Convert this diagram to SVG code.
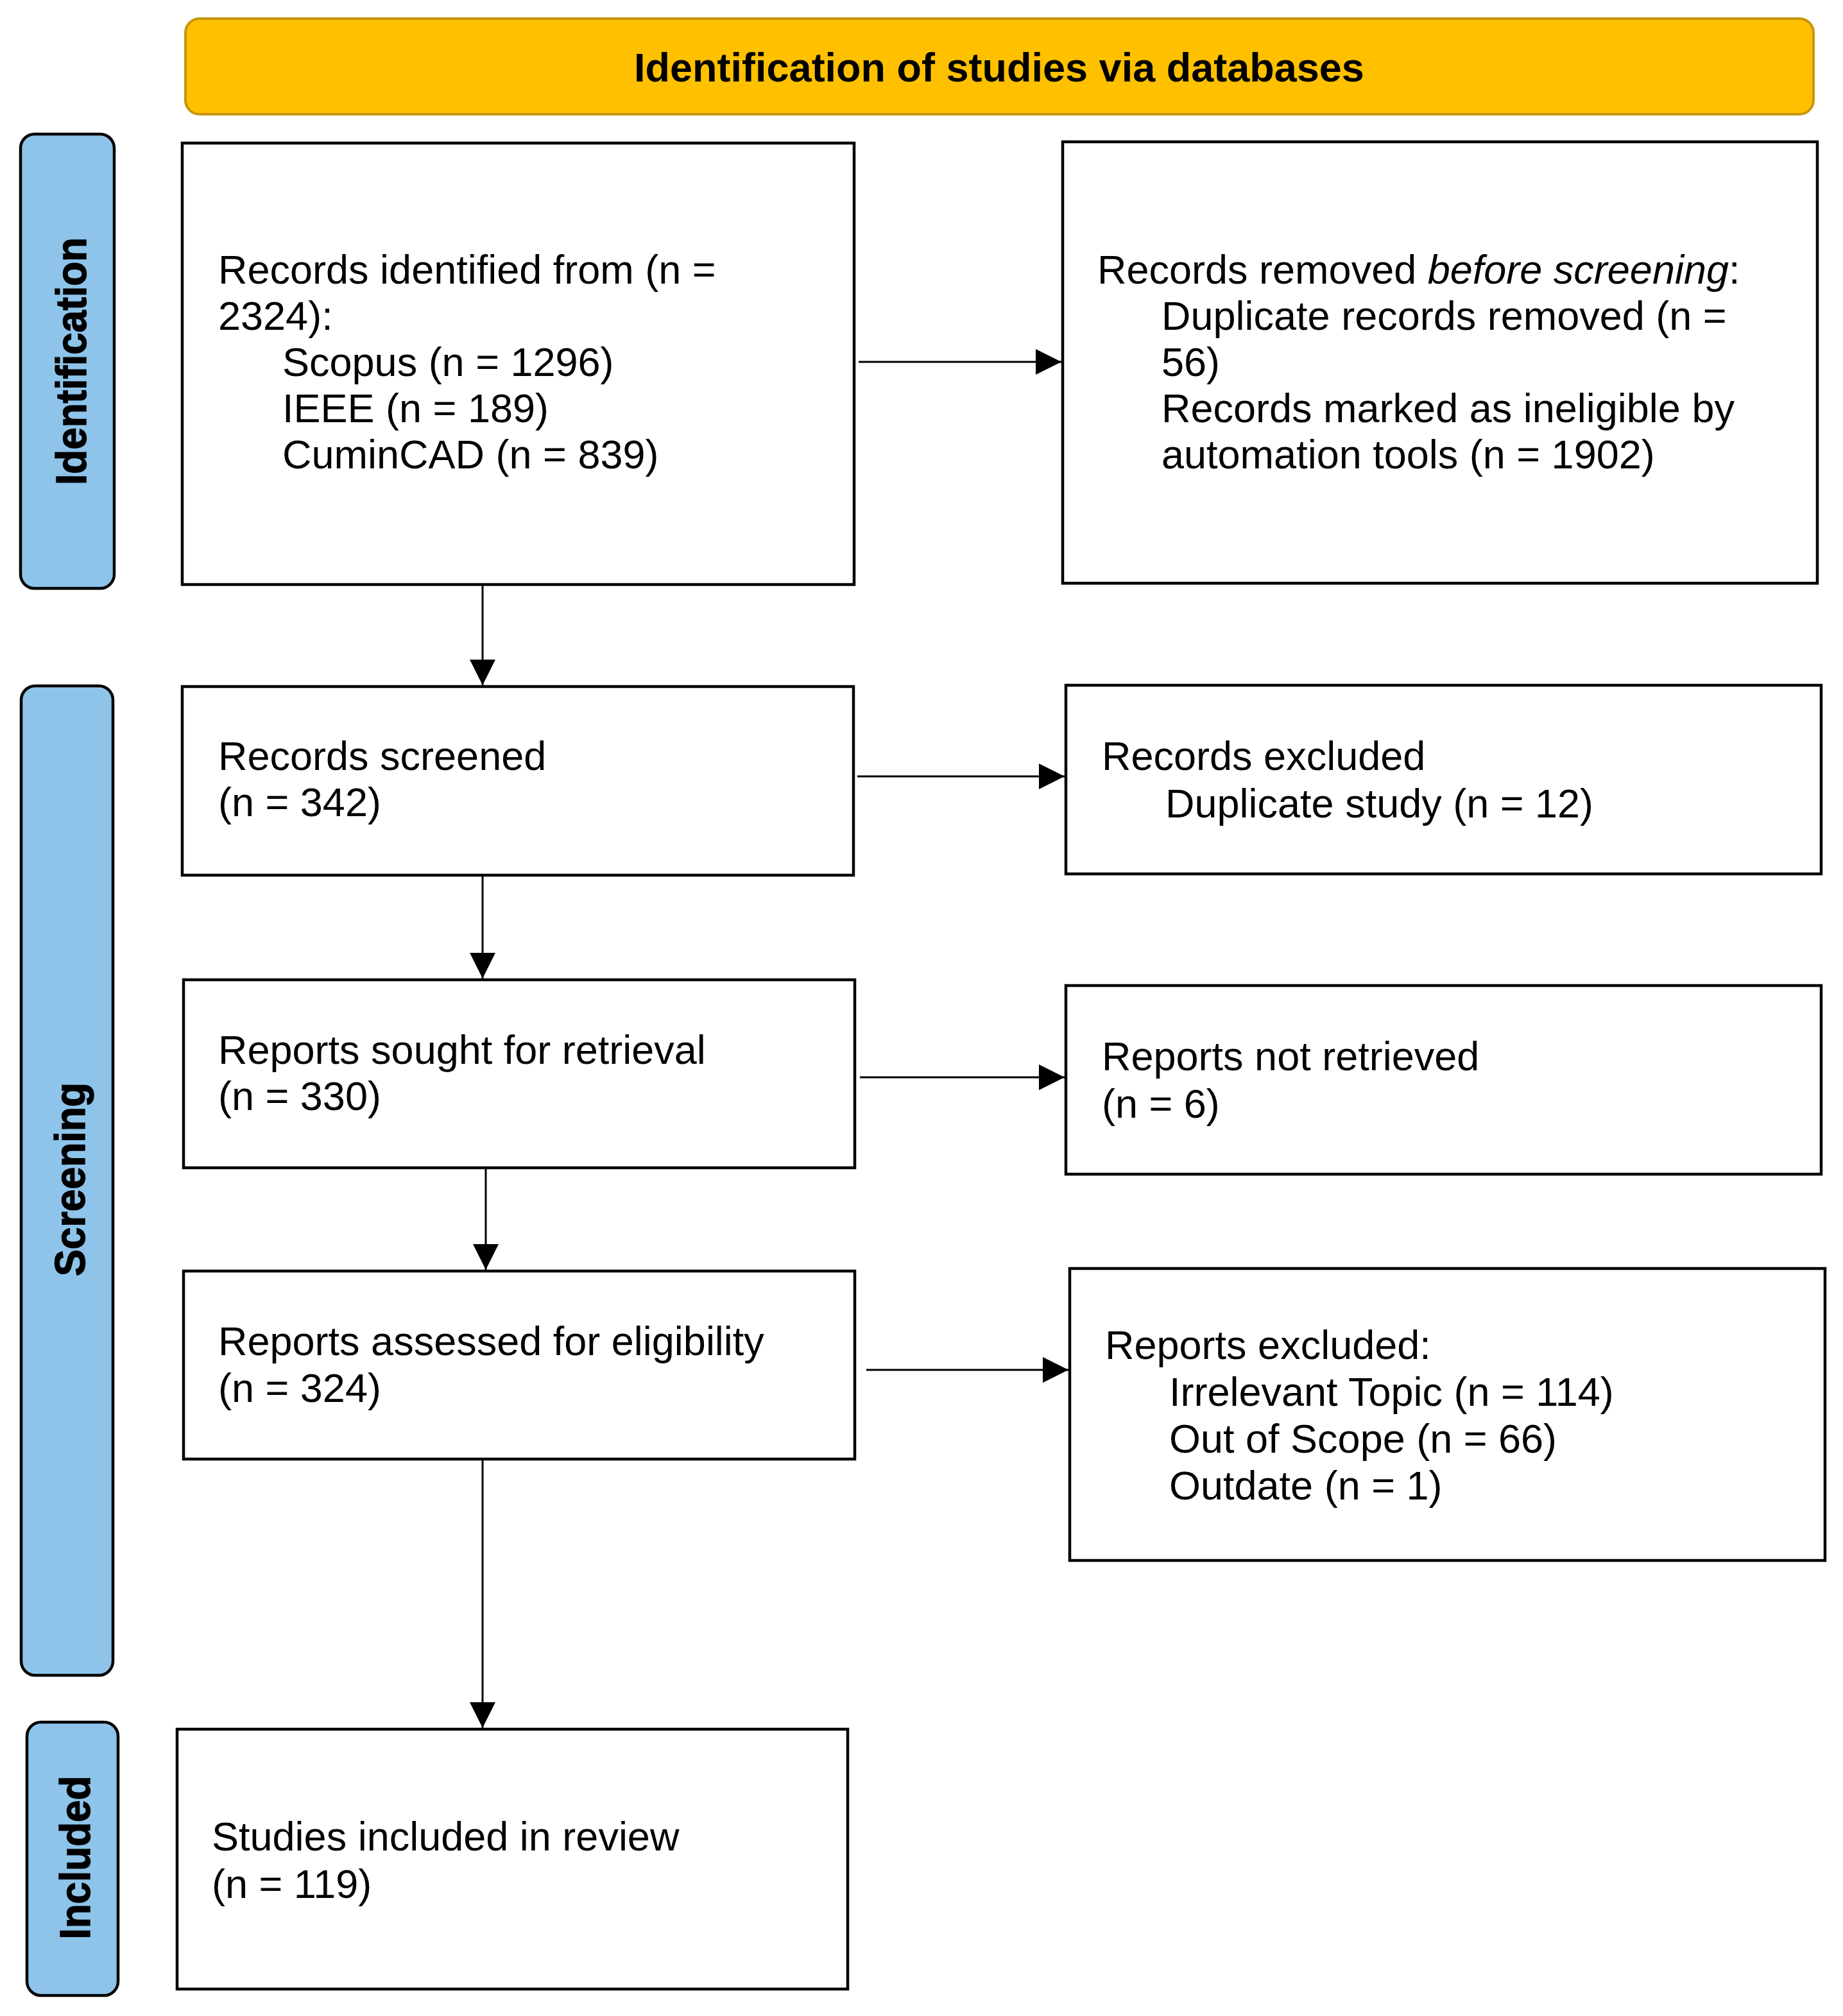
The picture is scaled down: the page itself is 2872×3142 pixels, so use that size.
<svg xmlns="http://www.w3.org/2000/svg" width="2872" height="3142" viewBox="0 0 2872 3142">
<style>
.box{fill:#fff;stroke:#000;stroke-width:4.5}
.side{fill:#8EC4EA;stroke:#000;stroke-width:4.5}
.t{font-family:"Liberation Sans",Arial,sans-serif;font-size:63px;fill:#000}
.sl{font-family:"Liberation Sans",Arial,sans-serif;font-size:67px;font-weight:bold;fill:#000;stroke:#000;stroke-width:1.5}
.con{fill:none;stroke:#000;stroke-width:3}
</style>
<defs>
<marker id="ah" markerUnits="userSpaceOnUse" markerWidth="40" markerHeight="40" refX="40" refY="20" orient="auto" viewBox="0 0 40 40">
<path d="M0,0 L40,20 L0,40 z" fill="#000"/>
</marker>
</defs>
<rect width="2872" height="3142" fill="#fff"/>
<g id="header">
<rect x="289" y="29" width="2537" height="149" rx="22" fill="#FFC000" stroke="#C9950C" stroke-width="4"/>
<text class="t" x="1557" y="127" text-anchor="middle" font-weight="bold">Identification of studies via databases</text>
</g>
<g id="side-identification">
<rect class="side" x="32" y="209" width="146" height="708" rx="22"/>
<text class="sl" transform="translate(134,563) rotate(-90)" text-anchor="middle" textLength="386" lengthAdjust="spacingAndGlyphs">Identification</text>
</g>
<g id="side-screening">
<rect class="side" x="33" y="1069" width="143" height="1542" rx="22"/>
<text class="sl" transform="translate(132,1838) rotate(-90)" text-anchor="middle" textLength="302" lengthAdjust="spacingAndGlyphs">Screening</text>
</g>
<g id="side-included">
<rect class="side" x="42" y="2684" width="142" height="426" rx="22"/>
<text class="sl" transform="translate(140,2895) rotate(-90)" text-anchor="middle" textLength="255" lengthAdjust="spacingAndGlyphs">Included</text>
</g>
<g id="connectors">
<path class="con" d="M1338,564 H1654" marker-end="url(#ah)"/>
<path class="con" d="M752,912 V1068" marker-end="url(#ah)"/>
<path class="con" d="M1336,1210 H1659" marker-end="url(#ah)"/>
<path class="con" d="M752,1366 V1525" marker-end="url(#ah)"/>
<path class="con" d="M1340,1679 H1659" marker-end="url(#ah)"/>
<path class="con" d="M757,1822 V1979" marker-end="url(#ah)"/>
<path class="con" d="M1350,2135 H1665" marker-end="url(#ah)"/>
<path class="con" d="M752,2276 V2693" marker-end="url(#ah)"/>
</g>
<g id="records-identified">
<rect class="box" x="284" y="223" width="1047" height="688"/>
<text class="t" x="340" y="442">Records identified from (n =</text>
<text class="t" x="340" y="514">2324):</text>
<text class="t" x="440" y="586">Scopus (n = 1296)</text>
<text class="t" x="440" y="658">IEEE (n = 189)</text>
<text class="t" x="440" y="730">CuminCAD (n = 839)</text>
</g>
<g id="records-removed">
<rect class="box" x="1656" y="221" width="1176" height="688"/>
<text class="t" x="1710" y="442">Records removed <tspan font-style="italic">before screening</tspan>:</text>
<text class="t" x="1810" y="514">Duplicate records removed (n =</text>
<text class="t" x="1810" y="586">56)</text>
<text class="t" x="1810" y="658">Records marked as ineligible by</text>
<text class="t" x="1810" y="730">automation tools (n = 1902)</text>
</g>
<g id="records-screened">
<rect class="box" x="284" y="1070" width="1046" height="294"/>
<text class="t" x="340" y="1200">Records screened</text>
<text class="t" x="340" y="1272">(n = 342)</text>
</g>
<g id="records-excluded">
<rect class="box" x="1661" y="1068" width="1177" height="294"/>
<text class="t" x="1717" y="1200">Records excluded</text>
<text class="t" x="1816" y="1274">Duplicate study (n = 12)</text>
</g>
<g id="reports-sought">
<rect class="box" x="286" y="1527" width="1046" height="293"/>
<text class="t" x="340" y="1658">Reports sought for retrieval</text>
<text class="t" x="340" y="1730">(n = 330)</text>
</g>
<g id="reports-not-retrieved">
<rect class="box" x="1661" y="1536" width="1177" height="294"/>
<text class="t" x="1717" y="1668">Reports not retrieved</text>
<text class="t" x="1717" y="1742">(n = 6)</text>
</g>
<g id="reports-assessed">
<rect class="box" x="286" y="1981" width="1046" height="293"/>
<text class="t" x="340" y="2112">Reports assessed for eligibility</text>
<text class="t" x="340" y="2185">(n = 324)</text>
</g>
<g id="reports-excluded">
<rect class="box" x="1667" y="1977" width="1177" height="455"/>
<text class="t" x="1722" y="2118">Reports excluded:</text>
<text class="t" x="1822" y="2191">Irrelevant Topic (n = 114)</text>
<text class="t" x="1822" y="2264">Out of Scope (n = 66)</text>
<text class="t" x="1822" y="2337">Outdate (n = 1)</text>
</g>
<g id="studies-included">
<rect class="box" x="276" y="2695" width="1045" height="405"/>
<text class="t" x="330" y="2884">Studies included in review</text>
<text class="t" x="330" y="2958">(n = 119)</text>
</g>
</svg>
